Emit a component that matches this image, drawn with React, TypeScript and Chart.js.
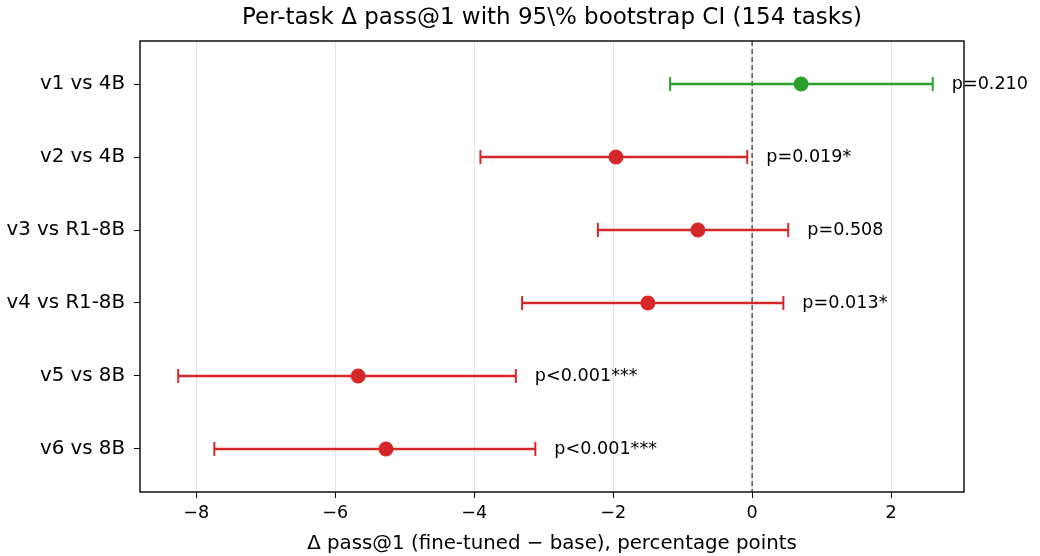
import React, { useEffect, useRef } from "react";
import { Chart, registerables } from "chart.js";

Chart.register(...registerables);

const categories = ["v1 vs 4B", "v2 vs 4B", "v3 vs R1-8B", "v4 vs R1-8B", "v5 vs 8B", "v6 vs 8B"];
const deltas = [0.705, -1.96, -0.78, -1.5, -5.67, -5.27];
const ciLow = [-1.18, -3.91, -2.22, -3.31, -8.26, -7.74];
const ciHigh = [2.6, -0.07, 0.52, 0.45, -3.4, -3.12];
const pLabels = ["p=0.210", "p=0.019*", "p=0.508", "p=0.013*", "p<0.001***", "p<0.001***"];
const xTicks = [-8, -6, -4, -2, 0, 2];
const titleText = "Per-task Δ pass@1 with 95\\% bootstrap CI (154 tasks)";
const xTitleText = "Δ pass@1 (fine-tuned − base), percentage points";

const GREEN = "#2ca02c";
const RED = "#d62728";
const FONT = "'DejaVu Sans', sans-serif";

export default function App() {
  const ref = useRef<HTMLCanvasElement | null>(null);
  useEffect(() => {
    const canvas = ref.current;
    if (!canvas) return;
    const colors = deltas.map((d) => (d > 0 ? GREEN : RED));
    const ciSets: any[] = categories.map((_, i) => ({
      type: "line",
      data: [
        { x: ciLow[i], y: i },
        { x: ciHigh[i], y: i },
      ],
      borderColor: colors[i],
      backgroundColor: colors[i],
      borderWidth: 2.4,
      pointStyle: "line",
      pointRotation: 90,
      pointRadius: 7,
      pointBorderWidth: 2,
      pointBorderColor: colors[i],
      order: 2,
    }));
    const zeroLine: any = {
      type: "line",
      data: [
        { x: 0, y: -0.59 },
        { x: 0, y: 5.59 },
      ],
      borderColor: "#555555",
      borderWidth: 1.5,
      borderDash: [5, 3],
      pointRadius: 0,
      order: 3,
    };
    const points: any = {
      type: "scatter",
      data: deltas.map((d, i) => ({ x: d, y: i })),
      backgroundColor: colors,
      borderColor: colors,
      pointRadius: 7.5,
      borderWidth: 0,
      order: 1,
    };
    const overlay = {
      id: "overlay",
      afterDatasetsDraw(chart: any) {
        const { ctx, chartArea, scales } = chart;
        ctx.save();
        ctx.font = `17.6px ${FONT}`;
        ctx.fillStyle = "#000";
        ctx.textAlign = "left";
        ctx.textBaseline = "middle";
        pLabels.forEach((t, i) => {
          const x = scales.x.getPixelForValue(ciHigh[i]) + 19;
          const y = scales.y.getPixelForValue(i);
          ctx.fillText(t, x, y);
        });
        ctx.strokeStyle = "#000";
        ctx.lineWidth = 1.4;
        ctx.strokeRect(chartArea.left, chartArea.top, chartArea.right - chartArea.left, chartArea.bottom - chartArea.top);
        ctx.font = `23px ${FONT}`;
        ctx.textAlign = "center";
        ctx.fillText(titleText, (chartArea.left + chartArea.right) / 2, 18);
        ctx.restore();
      },
    };
    const chart = new Chart(canvas, {
      type: "scatter",
      data: { datasets: [zeroLine, ...ciSets, points] },
      options: {
        animation: false,
        responsive: false,
        layout: { padding: { left: 0, right: 76, top: 41, bottom: 0 } },
        plugins: {
          legend: { display: false },
          tooltip: { enabled: false },
          title: { display: false },
        },
        scales: {
          x: {
            type: "linear",
            min: -8.81,
            max: 3.05,
            afterBuildTicks: (s: any) => {
              s.ticks = xTicks.map((v) => ({ value: v }));
            },
            afterFit: (s: any) => {
              s.height = 64;
            },
            ticks: {
              color: "#000",
              font: { family: FONT, size: 17.6 },
              padding: 5,
              callback: (v: any) => String(v).replace("-", "\u2212"),
            },
            grid: { color: "#e6e6e6", tickColor: "#000", tickLength: 6, lineWidth: 1 },
            border: { display: false },
            title: {
              display: true,
              text: xTitleText,
              color: "#000",
              font: { family: FONT, size: 19.8 },
              padding: { top: 0, bottom: 0 },
            },
          },
          y: {
            type: "linear",
            reverse: true,
            min: -0.59,
            max: 5.59,
            afterBuildTicks: (s: any) => {
              s.ticks = categories.map((_, i) => ({ value: i }));
            },
            afterFit: (s: any) => {
              s.width = 140;
            },
            ticks: {
              color: "#000",
              font: { family: FONT, size: 19.8 },
              padding: 9,
              callback: (v: any) => categories[Math.round(Number(v))] ?? "",
            },
            grid: { drawOnChartArea: false, drawTicks: true, tickColor: "#000", tickLength: 6 },
            border: { display: false },
          },
        },
      },
      plugins: [overlay],
    } as any);
    return () => chart.destroy();
  }, []);
  return (
    <div style={{ position: "fixed", left: 0, top: 0, width: 1040, height: 556, background: "#fff" }}>
      <canvas ref={ref} width={1040} height={556} />
    </div>
  );
}
